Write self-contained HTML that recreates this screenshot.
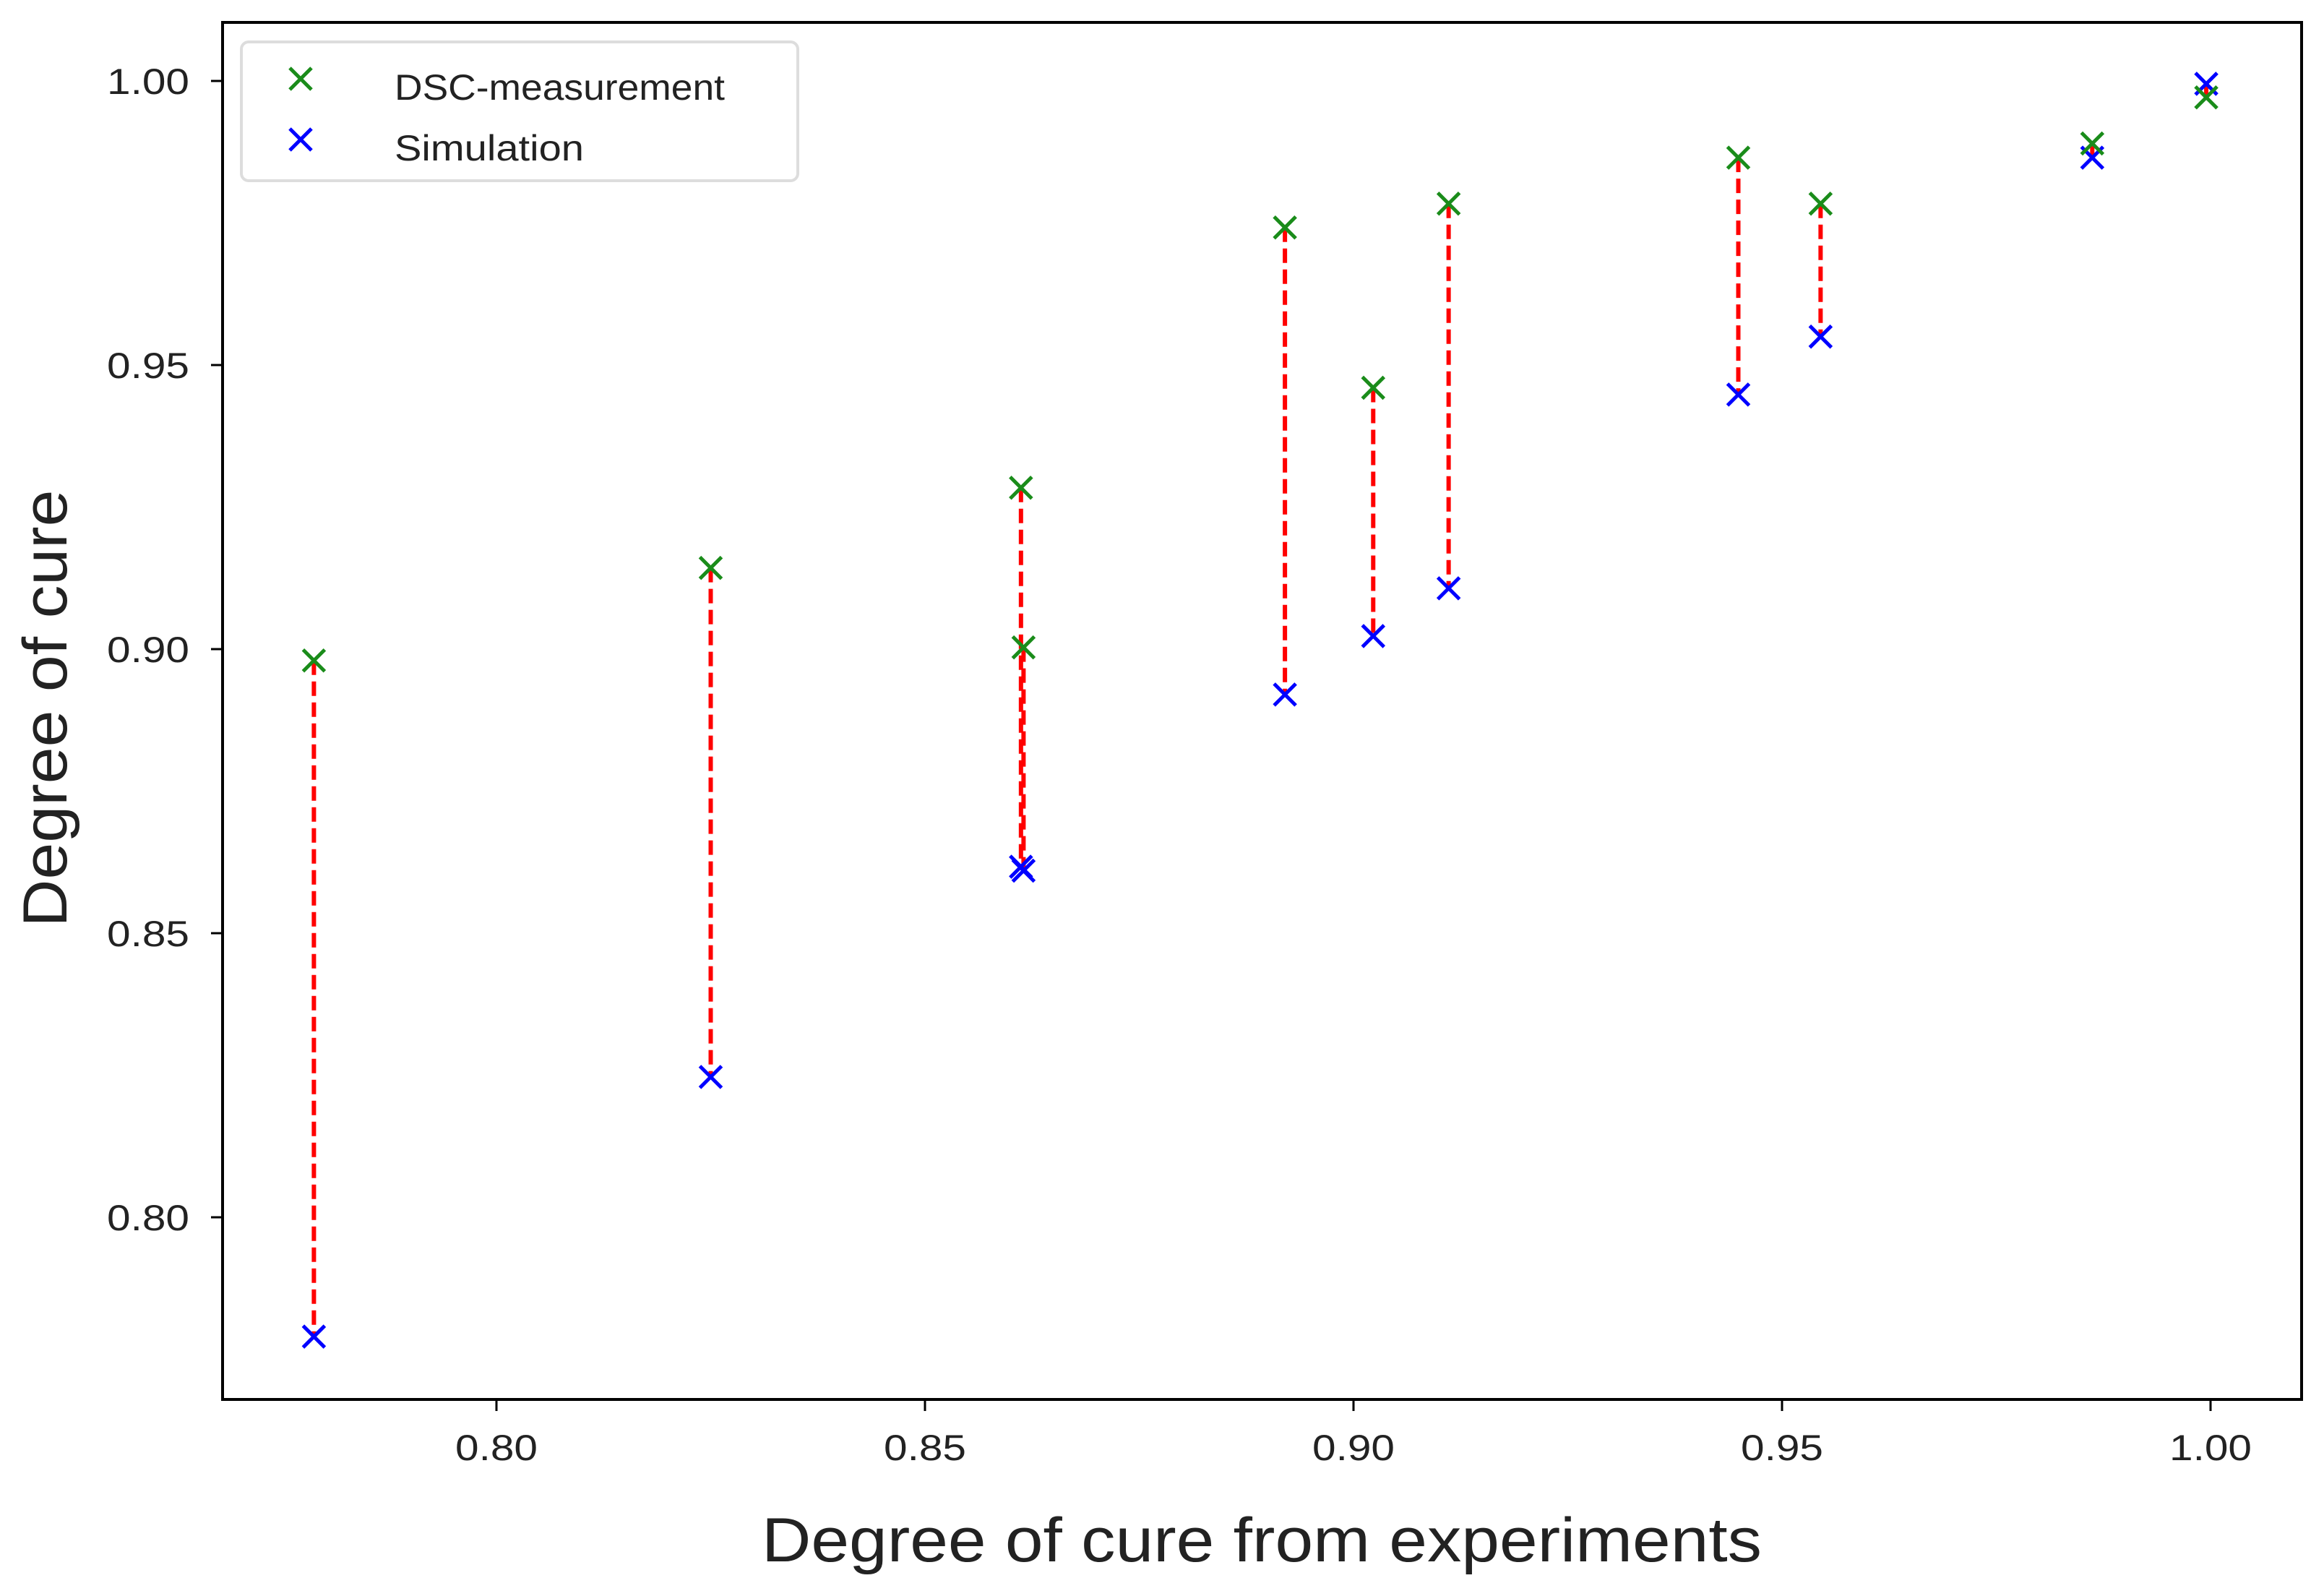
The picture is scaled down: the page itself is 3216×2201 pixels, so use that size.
<!DOCTYPE html>
<html><head><meta charset="utf-8"><style>html,body{margin:0;padding:0;background:#fff}svg{display:block}text{font-family:"Liberation Sans",sans-serif;fill:#222}</style></head>
<body>
<svg id="chart" width="3216" height="2201" viewBox="0 0 3216 2201" xmlns="http://www.w3.org/2000/svg">
<rect width="3216" height="2201" fill="#fff"/>
<g id="lines"></g>
<g id="marks"></g>
<rect x="308" y="31" width="2877" height="1905" fill="none" stroke="#000" stroke-width="4"/>
<g id="ticks"></g>
<text x="1746" y="2160" font-size="86" text-anchor="middle" textLength="1384" lengthAdjust="spacingAndGlyphs">Degree of cure from experiments</text>
<text transform="translate(92,980) rotate(-90)" font-size="86" text-anchor="middle" textLength="605" lengthAdjust="spacingAndGlyphs">Degree of cure</text>
<g>
<rect x="334" y="58" width="770" height="192" rx="10" fill="#fff" stroke="#ddd" stroke-width="4"/>
<g>
<path d="M401,94 L431,124 M431,94 L401,124" stroke="#1a8c1a" stroke-width="5"/>
<text x="546" y="138" font-size="50" textLength="457" lengthAdjust="spacingAndGlyphs">DSC-measurement</text></g>
<g>
<path d="M401,178 L431,208 M431,178 L401,208" stroke="#0000ff" stroke-width="5"/>
<text x="546" y="222" font-size="50" textLength="262" lengthAdjust="spacingAndGlyphs">Simulation</text></g>
</g>
</svg>
<script>
const xs = [0.7787,0.825,0.8612,0.8615,0.892,0.9023,0.9111,0.9449,0.9545,0.9862,0.9995];
const dsc = [0.898,0.9143,0.9284,0.9003,0.9742,0.946,0.9784,0.9865,0.9784,0.989,0.9971];
const sim = [0.779,0.8247,0.8617,0.861,0.892,0.9023,0.9107,0.9448,0.955,0.9865,0.9995];
const xTicks = [0.80,0.85,0.90,0.95,1.00];
const yTicks = [0.80,0.85,0.90,0.95,1.00];
const xTickLabels = ["0.80","0.85","0.90","0.95","1.00"];
const yTickLabels = ["0.80","0.85","0.90","0.95","1.00"];
const NS="http://www.w3.org/2000/svg";
function X(v){return 687+(v-0.80)*11860;}
function Y(v){return 112+(1.00-v)*7860;}
function mk(t,a){const e=document.createElementNS(NS,t);for(const k in a)e.setAttribute(k,a[k]);return e;}
const L=document.getElementById('lines'),M=document.getElementById('marks'),T=document.getElementById('ticks');
function cross(x,y,c,name){const p=mk('path',{d:`M${x-15},${y-15} L${x+15},${y+15} M${x+15},${y-15} L${x-15},${y+15}`,stroke:c,'stroke-width':5});


M.appendChild(p);}
xs.forEach((x,i)=>{
 const l=mk('line',{x1:X(x),x2:X(x),y1:Y(dsc[i]),y2:Y(sim[i]),stroke:'#ff0000','stroke-width':6,'stroke-dasharray':'20,9'});
 
 
 L.appendChild(l);
});
xs.forEach((x,i)=>{cross(X(x),Y(sim[i]),'#0000ff','simulation-point');});
xs.forEach((x,i)=>{cross(X(x),Y(dsc[i]),'#1a8c1a','dsc-point');});
xTicks.forEach((v,i)=>{
 const t=mk('line',{x1:X(v),x2:X(v),y1:1936,y2:1952,stroke:'#000','stroke-width':3});
 
 
 T.appendChild(t);
 const s=mk('text',{x:X(v),y:2020,'font-size':50,'text-anchor':'middle',textLength:114,lengthAdjust:'spacingAndGlyphs'});s.textContent=xTickLabels[i];
 
 
 T.appendChild(s);
});
yTicks.forEach((v,i)=>{
 const t=mk('line',{x1:292,x2:308,y1:Y(v),y2:Y(v),stroke:'#000','stroke-width':3});
 
 
 T.appendChild(t);
 const s=mk('text',{x:262,y:Y(v)+18,'font-size':50,'text-anchor':'end',textLength:114,lengthAdjust:'spacingAndGlyphs'});s.textContent=yTickLabels[i];
 
 
 T.appendChild(s);
});
</script>
</body></html>
